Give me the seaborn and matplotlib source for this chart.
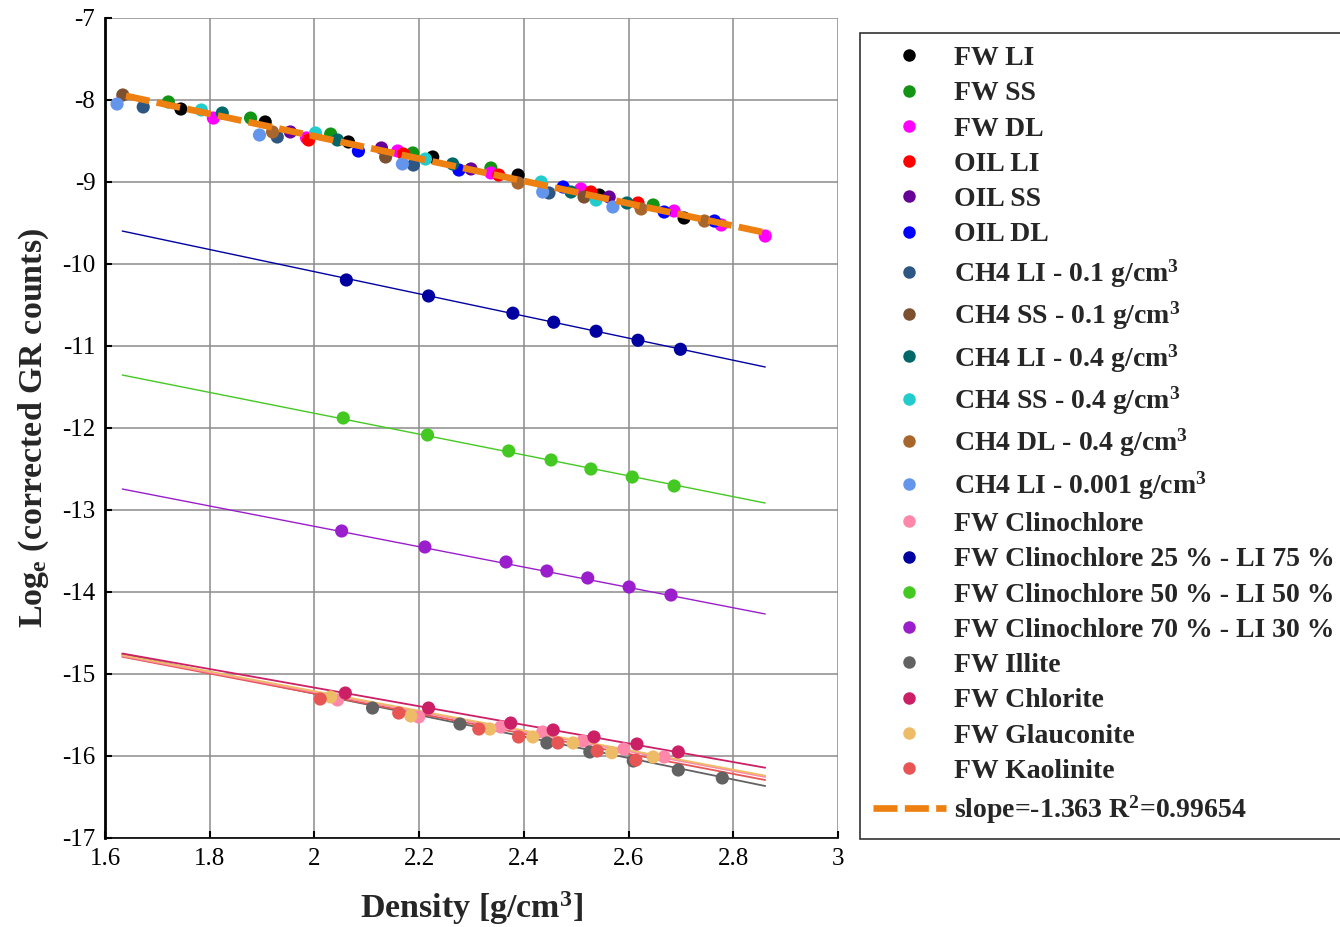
import matplotlib
matplotlib.use("Agg")
import matplotlib.pyplot as plt
import seaborn as sns
import pandas as pd
from matplotlib.lines import Line2D

# ---------------- data ----------------
fw_li_x = [1.745, 1.906, 2.065, 2.226, 2.389, 2.544, 2.706]
fw_li_y = [-8.110, -8.268, -8.512, -8.695, -8.915, -9.159, -9.439]
fw_ss_x = [1.721, 1.878, 2.031, 2.188, 2.337, 2.647]
fw_ss_y = [-8.024, -8.220, -8.415, -8.646, -8.829, -9.280]
fw_dl_x = [1.807, 1.985, 2.159, 2.337, 2.509, 2.687, 2.777, 2.861]
fw_dl_y = [-8.220, -8.463, -8.622, -8.890, -9.085, -9.354, -9.524, -9.659]
oil_li_x = [1.989, 2.170, 2.352, 2.528, 2.618]
oil_li_y = [-8.488, -8.659, -8.915, -9.122, -9.256]
oil_ss_x = [1.954, 2.128, 2.299, 2.563]
oil_ss_y = [-8.390, -8.585, -8.841, -9.183]
oil_dl_x = [2.084, 2.276, 2.475, 2.668, 2.764]
oil_dl_y = [-8.622, -8.854, -9.061, -9.366, -9.476]
ch4_li01_x = [1.673, 1.929, 2.189, 2.448]
ch4_li01_y = [-8.085, -8.451, -8.793, -9.134]
ch4_ss01_x = [1.634, 2.136, 2.515]
ch4_ss01_y = [-7.939, -8.695, -9.183]
ch4_li04_x = [1.824, 2.044, 2.264, 2.490, 2.597]
ch4_li04_y = [-8.159, -8.488, -8.780, -9.122, -9.256]
ch4_ss04_x = [1.784, 2.002, 2.212, 2.433, 2.538]
ch4_ss04_y = [-8.122, -8.402, -8.720, -9.000, -9.220]
ch4_dl04_x = [1.920, 2.389, 2.624, 2.745]
ch4_dl04_y = [-8.390, -9.012, -9.329, -9.476]
ch4_li0001_x = [1.623, 1.895, 2.168, 2.436, 2.570]
ch4_li0001_y = [-8.049, -8.427, -8.780, -9.122, -9.305]

clino_x = [2.044, 2.199, 2.356, 2.436, 2.513, 2.591, 2.668]
clino_y = [-15.317, -15.524, -15.646, -15.707, -15.817, -15.915, -16.012]
clino25_x = [2.061, 2.218, 2.379, 2.457, 2.538, 2.618, 2.699]
clino25_y = [-10.195, -10.390, -10.600, -10.710, -10.820, -10.930, -11.040]
clino50_x = [2.055, 2.216, 2.371, 2.452, 2.528, 2.607, 2.687]
clino50_y = [-11.878, -12.085, -12.280, -12.390, -12.500, -12.598, -12.707]
clino70_x = [2.052, 2.211, 2.366, 2.444, 2.522, 2.601, 2.681]
clino70_y = [-13.256, -13.451, -13.634, -13.744, -13.829, -13.939, -14.037]
illite_x = [2.111, 2.278, 2.444, 2.526, 2.609, 2.695, 2.779]
illite_y = [-15.415, -15.610, -15.841, -15.951, -16.061, -16.171, -16.268]
chlorite_x = [2.059, 2.218, 2.375, 2.456, 2.534, 2.616, 2.695]
chlorite_y = [-15.232, -15.415, -15.598, -15.683, -15.768, -15.854, -15.951]
glauc_x = [2.031, 2.184, 2.335, 2.417, 2.494, 2.568, 2.647]
glauc_y = [-15.280, -15.512, -15.671, -15.768, -15.841, -15.960, -16.012]
kaol_x = [2.011, 2.161, 2.314, 2.390, 2.465, 2.540, 2.614]
kaol_y = [-15.305, -15.476, -15.671, -15.768, -15.841, -15.939, -16.049]

# fitted-line end points (x, y at start and end)
fitline_x = [1.633, 2.861]
clino25_line_y = [-9.598, -11.256]
clino50_line_y = [-11.354, -12.915]
clino70_line_y = [-12.744, -14.268]
illite_line_y = [-14.76, -16.366]
kaol_line_y = [-14.79, -16.293]
clino_line_y = [-14.78, -16.256]
glauc_line_y = [-14.77, -16.24]
chlorite_line_y = [-14.75, -16.143]
overall_x = [1.64, 2.87]
overall_y = [-7.95, -9.63]

labels = ["FW LI", "FW SS", "FW DL", "OIL LI", "OIL SS", "OIL DL",
          "CH4 LI - 0.1 g/cm$^3$", "CH4 SS - 0.1 g/cm$^3$",
          "CH4 LI - 0.4 g/cm$^3$", "CH4 SS - 0.4 g/cm$^3$",
          "CH4 DL - 0.4 g/cm$^3$", "CH4 LI - 0.001 g/cm$^3$",
          "FW Clinochlore", "FW Clinochlore 25 % - LI 75 %",
          "FW Clinochlore 50 % - LI 50 %", "FW Clinochlore 70 % - LI 30 %",
          "FW Illite", "FW Chlorite", "FW Glauconite", "FW Kaolinite"]
colors = ["#000000", "#149414", "#ff00ff", "#ff0000", "#660099", "#0000ff",
          "#2e5682", "#7d5030", "#006868", "#22cccc", "#a8662c", "#6495ed",
          "#ff88aa", "#0000a0", "#44c822", "#9a1ecc",
          "#626262", "#cc2066", "#eebb66", "#e85555"]
xs = [fw_li_x, fw_ss_x, fw_dl_x, oil_li_x, oil_ss_x, oil_dl_x,
      ch4_li01_x, ch4_ss01_x, ch4_li04_x, ch4_ss04_x, ch4_dl04_x, ch4_li0001_x,
      clino_x, clino25_x, clino50_x, clino70_x,
      illite_x, chlorite_x, glauc_x, kaol_x]
ys = [fw_li_y, fw_ss_y, fw_dl_y, oil_li_y, oil_ss_y, oil_dl_y,
      ch4_li01_y, ch4_ss01_y, ch4_li04_y, ch4_ss04_y, ch4_dl04_y, ch4_li0001_y,
      clino_y, clino25_y, clino50_y, clino70_y,
      illite_y, chlorite_y, glauc_y, kaol_y]
fit_lines = [(clino25_line_y, "#0000a0", 1.0), (clino50_line_y, "#44c822", 1.0),
             (clino70_line_y, "#9a1ecc", 1.0), (illite_line_y, "#626262", 1.3),
             (kaol_line_y, "#e85555", 1.3), (clino_line_y, "#ff88aa", 1.3),
             (glauc_line_y, "#eebb66", 1.3), (chlorite_line_y, "#cc2066", 1.3)]

# ---------------- style ----------------
sns.set_style("white")
plt.rcParams["font.family"] = ["Liberation Serif", "DejaVu Serif"]
plt.rcParams["axes.unicode_minus"] = False
plt.rcParams["mathtext.fontset"] = "custom"
plt.rcParams["mathtext.rm"] = "Liberation Serif:bold"
plt.rcParams["mathtext.bf"] = "Liberation Serif:bold"
plt.rcParams["mathtext.it"] = "Liberation Serif:bold"

fig = plt.figure(figsize=(13.4, 9.27), dpi=100)
ax = fig.add_axes([105 / 1340, 1 - 838 / 927, (838 - 105) / 1340, (838 - 18) / 927])

for ly, c, lw in fit_lines:
    sns.lineplot(x=fitline_x, y=ly, color=c, lw=lw, ax=ax, zorder=2)

rows = []
for lab, x, y in zip(labels, xs, ys):
    for xv, yv in zip(x, y):
        rows.append({"Density": xv, "LogGR": yv, "series": lab})
df = pd.DataFrame(rows)
sns.scatterplot(data=df, x="Density", y="LogGR", hue="series", hue_order=labels,
                palette=dict(zip(labels, colors)), s=90, linewidth=0,
                ax=ax, legend=False, zorder=3)

sns.lineplot(x=overall_x, y=overall_y, color="#ee7f11", lw=4.8, ax=ax, zorder=4,
             dashes=False, linestyle=(0, (3.6, 1.1)))

ax.set_xlim(1.6, 3.0)
ax.set_ylim(-17, -7)
ax.set_xticks([1.6, 1.8, 2.0, 2.2, 2.4, 2.6, 2.8, 3.0])
ax.set_xticklabels(["1.6", "1.8", "2", "2.2", "2.4", "2.6", "2.8", "3"])
ax.set_yticks(range(-17, -6))
ax.grid(True, color="#8c8c8c", lw=1.1)
for s in ["top", "right"]:
    ax.spines[s].set_visible(False)
ax.spines["left"].set_color("black")
ax.spines["left"].set_linewidth(2)
ax.spines["bottom"].set_color("black")
ax.spines["bottom"].set_linewidth(1.2)
ax.tick_params(direction="in", length=5, width=1.5, labelsize=18, pad=7,
               colors="black", left=True, bottom=True)

ax.set_xlabel("Density [g/cm$^3$]", fontsize=24.5, fontweight="bold", labelpad=14)
ax.set_ylabel("Log$_e$ (corrected GR counts)", fontsize=24.5, fontweight="bold",
              labelpad=8)

handles = [Line2D([], [], marker="o", ls="none", color=c, markersize=9,
                  markeredgewidth=0) for c in colors]
handles.append(Line2D([], [], color="#ee7f11", lw=4.8, ls=(0, (3.6, 1.1))))
leg_labels = labels + ["slope=-1.363 R$^2$=0.99654"]
leg = fig.legend(handles, leg_labels, loc="upper left",
                 bbox_to_anchor=(860 / 1340, 1 - 33 / 927),
                 prop={"family": "Liberation Serif", "weight": "bold", "size": 20},
                 frameon=True, fancybox=False, edgecolor="black",
                 handlelength=2.65, handletextpad=0.3, labelspacing=0.355,
                 borderpad=0.45, borderaxespad=0)
leg.get_frame().set_linewidth(1.2)

fig.savefig("out.png", dpi=100)
